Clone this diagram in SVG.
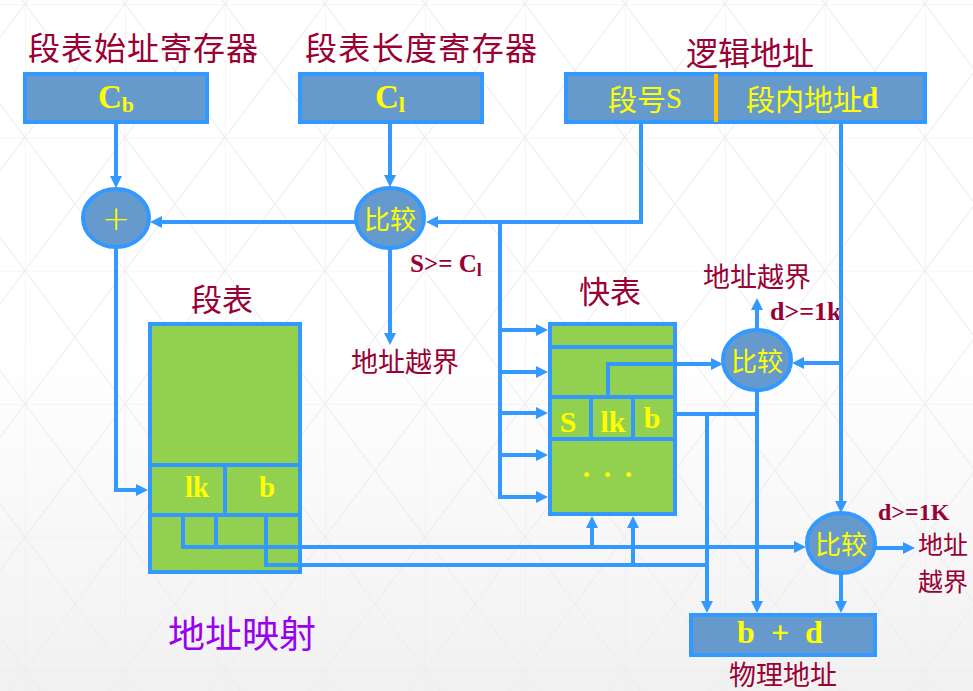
<svg xmlns="http://www.w3.org/2000/svg" width="973" height="691" viewBox="0 0 973 691">
<defs>
<linearGradient id="bg" x1="0" y1="0" x2="0" y2="1">
<stop offset="0" stop-color="#ffffff"/>
<stop offset="0.5" stop-color="#ffffff"/>
<stop offset="1" stop-color="#f1f1f1"/>
</linearGradient>
<pattern id="grid" x="25" y="4" width="100" height="133.3" patternUnits="userSpaceOnUse">
<path d="M0 0V133.3M0 0H100M0 0L100 133.3M100 0L0 133.3" fill="none" stroke="#ececec" stroke-width="1"/>
</pattern>
<marker id="ah" markerUnits="userSpaceOnUse" markerWidth="12" markerHeight="12" refX="8" refY="6" orient="auto">
<path d="M0,0 L12,6 L0,12 z" fill="#3399FF"/>
</marker>
<style>
.box{fill:#6699CC;stroke:#3399FF;stroke-width:4}
.grn{fill:#92D050;stroke:#3399FF;stroke-width:4}
.ln{fill:none;stroke:#3399FF;stroke-width:4}
.c{fill:none;stroke:#3399FF;stroke-width:4;marker-end:url(#ah)}
.ttl{font-family:"Noto Sans CJK SC","Noto Sans",sans-serif;fill:#990033;dominant-baseline:central}
.yc{font-family:"Noto Sans CJK SC","Noto Sans",sans-serif;fill:#FFFF00;dominant-baseline:central}
.yb{font-family:"Liberation Serif",serif;font-weight:bold;fill:#FFFF00}
.rb{font-family:"Liberation Serif",serif;font-weight:bold;fill:#990033}
</style>
</defs>
<rect width="973" height="691" fill="url(#bg)"/>
<rect width="973" height="691" fill="url(#grid)"/>

<g id="cb-register">
<text class="ttl" x="28" y="46" font-size="32" textLength="230">段表始址寄存器</text>
<rect class="box" x="25" y="74" width="182" height="48"/>
<text class="yb" x="116" y="108" font-size="33" text-anchor="middle">C<tspan font-size="22" dy="4">b</tspan></text>
</g>

<g id="cl-register">
<text class="ttl" x="305" y="46" font-size="32" textLength="232">段表长度寄存器</text>
<rect class="box" x="300" y="74" width="182" height="48"/>
<text class="yb" x="390" y="108" font-size="33" text-anchor="middle">C<tspan font-size="22" dy="4">l</tspan></text>
</g>

<g id="logical-address">
<text class="ttl" x="750" y="51" font-size="32" text-anchor="middle">逻辑地址</text>
<rect class="box" x="566" y="74" width="359" height="48"/>
<rect x="714" y="74" width="4" height="48" fill="#FFC000"/>
<text class="yc" x="645" y="98" font-size="29" text-anchor="middle">段号<tspan font-family="Liberation Serif">S</tspan></text>
<text class="yc" x="812" y="98" font-size="29" text-anchor="middle">段内地址<tspan font-family="Liberation Serif" font-weight="bold">d</tspan></text>
</g>

<g id="adder">
<ellipse class="box" cx="116" cy="218" rx="33" ry="29"/>
<text x="116" y="218" font-family="DejaVu Sans,sans-serif" font-size="34" fill="#FFFF00" text-anchor="middle" dominant-baseline="central" font-weight="100">+</text>
</g>

<g id="compare-1">
<ellipse class="box" cx="390" cy="218" rx="34" ry="30"/>
<text class="yc" x="390" y="217" font-size="26" text-anchor="middle">比较</text>
<text class="rb" x="410" y="272" font-size="25">S&gt;= C<tspan font-size="18" dy="4">l</tspan></text>
<text class="ttl" x="405" y="360" font-size="27" text-anchor="middle">地址越界</text>
</g>

<g id="segment-table">
<text class="ttl" x="222" y="297" font-size="31" text-anchor="middle">段表</text>
<rect class="grn" x="150" y="324" width="150" height="248"/>
<path class="ln" d="M150 465H300M150 515H300M225 465V515M216 515V547"/>
<text class="yb" x="197" y="497" font-size="29" text-anchor="middle">lk</text>
<text class="yb" x="267" y="497" font-size="29" text-anchor="middle">b</text>
</g>

<g id="fast-table">
<text class="ttl" x="610" y="289" font-size="31" text-anchor="middle">快表</text>
<rect class="grn" x="550" y="324" width="125" height="190"/>
<path class="ln" d="M550 347H675M550 397H675M550 439H675M591 397V439M633 397V439"/>
<text class="yb" x="568" y="432" font-size="30" text-anchor="middle">S</text>
<text class="yb" x="613" y="432" font-size="30" text-anchor="middle">lk</text>
<text class="yb" x="652" y="428" font-size="30" text-anchor="middle">b</text>
<text class="yb" x="609" y="477" font-size="30" text-anchor="middle" letter-spacing="3">. . .</text>
</g>

<g id="compare-2">
<ellipse class="box" cx="757" cy="360" rx="34" ry="30"/>
<text class="yc" x="757" y="359" font-size="26" text-anchor="middle">比较</text>
<text class="ttl" x="757" y="275" font-size="27" text-anchor="middle">地址越界</text>
<text class="rb" x="770" y="320" font-size="26">d&gt;=1k</text>
</g>

<g id="compare-3">
<ellipse class="box" cx="841" cy="543" rx="34" ry="30"/>
<text class="yc" x="841" y="542" font-size="26" text-anchor="middle">比较</text>
<text class="rb" x="878" y="520" font-size="24">d&gt;=1K</text>
<text class="ttl" x="918" y="543" font-size="25">地址</text>
<text class="ttl" x="918" y="580" font-size="25">越界</text>
</g>

<g id="physical-address">
<rect class="box" x="691" y="615" width="184" height="40"/>
<text class="yb" x="780" y="643" font-size="32" text-anchor="middle" xml:space="preserve">b  +  d</text>
<text class="ttl" x="783" y="673" font-size="27" text-anchor="middle">物理地址</text>
</g>

<g id="title">
<text x="168" y="632" font-family="Noto Sans CJK SC,sans-serif" font-size="37" fill="#9900EE" dominant-baseline="central">地址映射</text>
</g>

<g id="connectors">
<path class="c" d="M116 124V184"/>
<path class="c" d="M390 124V183"/>
<path class="c" d="M641 124V222H430"/>
<path class="c" d="M355 222H154"/>
<path class="c" d="M390 249V341"/>
<path class="c" d="M116 248V490H144"/>
<path class="c" d="M500 222V497H544"/>
<path class="c" d="M500 330H544"/>
<path class="c" d="M500 372H544"/>
<path class="c" d="M500 413H544"/>
<path class="c" d="M500 455H544"/>
<path class="c" d="M608 397V364H719"/>
<path class="c" d="M757 330V302"/>
<path class="c" d="M841 124V509"/>
<path class="c" d="M841 363H796"/>
<path class="ln" d="M677 414H757"/>
<path class="c" d="M707 414V609"/>
<path class="c" d="M757 391V609"/>
<path class="c" d="M875 548H911"/>
<path class="c" d="M841 573V609"/>
<path class="c" d="M183 515V547H802"/>
<path class="c" d="M592 547V520"/>
<path class="ln" d="M266 515V565H707"/>
<path class="c" d="M633 565V520"/>
</g>
</svg>
